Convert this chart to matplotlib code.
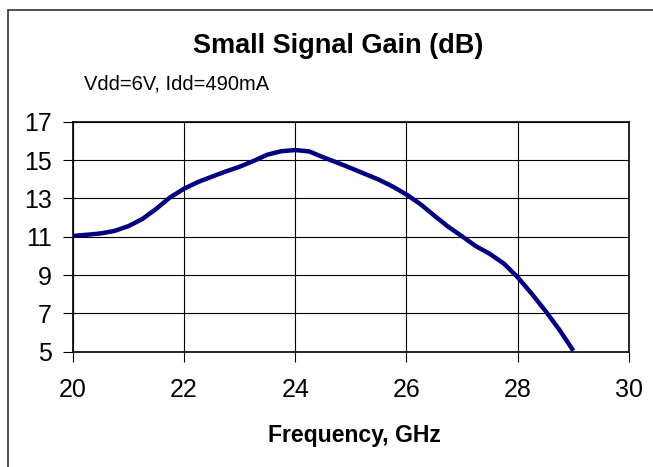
import matplotlib
matplotlib.use("Agg")
import matplotlib.pyplot as plt
from matplotlib.patches import Rectangle

freq_ghz = [20, 20.25, 20.5, 20.75, 21, 21.25, 21.5, 21.75, 22, 22.25, 22.5, 22.75,
            23, 23.25, 23.5, 23.75, 24, 24.25, 24.5, 24.75, 25, 25.25, 25.5, 25.75,
            26, 26.25, 26.5, 26.75, 27, 27.25, 27.5, 27.75, 28, 28.25, 28.5, 28.75, 29]
gain_db = [11.04, 11.1, 11.17, 11.3, 11.55, 11.92, 12.45, 13.05, 13.5, 13.85, 14.13, 14.4,
           14.65, 14.95, 15.28, 15.46, 15.52, 15.45, 15.15, 14.87, 14.58, 14.28, 13.98, 13.62,
           13.2, 12.7, 12.1, 11.52, 11.02, 10.5, 10.1, 9.6, 8.88, 8.03, 7.12, 6.14, 5.05]
x_ticks = [20, 22, 24, 26, 28, 30]
y_ticks = [5, 7, 9, 11, 13, 15, 17]
title = "Small Signal Gain (dB)"
subtitle = "Vdd=6V, Idd=490mA"
xlabel = "Frequency, GHz"

plt.rcParams['font.family'] = ['Liberation Sans', 'DejaVu Sans']

W, H = 653, 467
fig = plt.figure(figsize=(W / 100, H / 100), dpi=100)
fig.patch.set_facecolor('white')

# outer chart border (right & bottom edges fall outside the image)
fig.patches.append(Rectangle((7.5 / W, -0.2), 1.5, 1.2 - 10 / H, transform=fig.transFigure,
                             fill=False, edgecolor='#333333', linewidth=1.2, zorder=0))

ax = fig.add_axes([72.7 / W, 1 - 351.7 / H, (629 - 72.7) / W, (351.7 - 121.7) / H])
ax.plot(freq_ghz, gain_db, color='#000080', linewidth=3.2, solid_capstyle='butt',
        solid_joinstyle='round', zorder=3)
ax.set_xlim(20, 30)
ax.set_ylim(5, 17)
ax.set_xticks(x_ticks)
ax.set_yticks(y_ticks)
ax.set_xticklabels([str(v) for v in x_ticks])
ax.set_yticklabels([str(v) for v in y_ticks])
ax.grid(True, color='black', linewidth=0.8)
for s in ax.spines.values():
    s.set_color('black')
    s.set_linewidth(1.2)
ax.tick_params(axis='both', direction='out', length=7, width=0.8, color='black', labelsize=18)
ax.tick_params(axis='x', pad=12)
ax.tick_params(axis='y', pad=8)

fig.text(338 / W, 1 - 53 / H, title, ha='center', va='baseline', fontsize=19.5, fontweight='bold')
fig.text(84 / W, 1 - 89.3 / H, subtitle, ha='left', va='baseline', fontsize=14.5)
fig.text(354 / W, 1 - 441.7 / H, xlabel, ha='center', va='baseline', fontsize=16.6, fontweight='bold')

fig.savefig('out.png', dpi=100, facecolor='white')
